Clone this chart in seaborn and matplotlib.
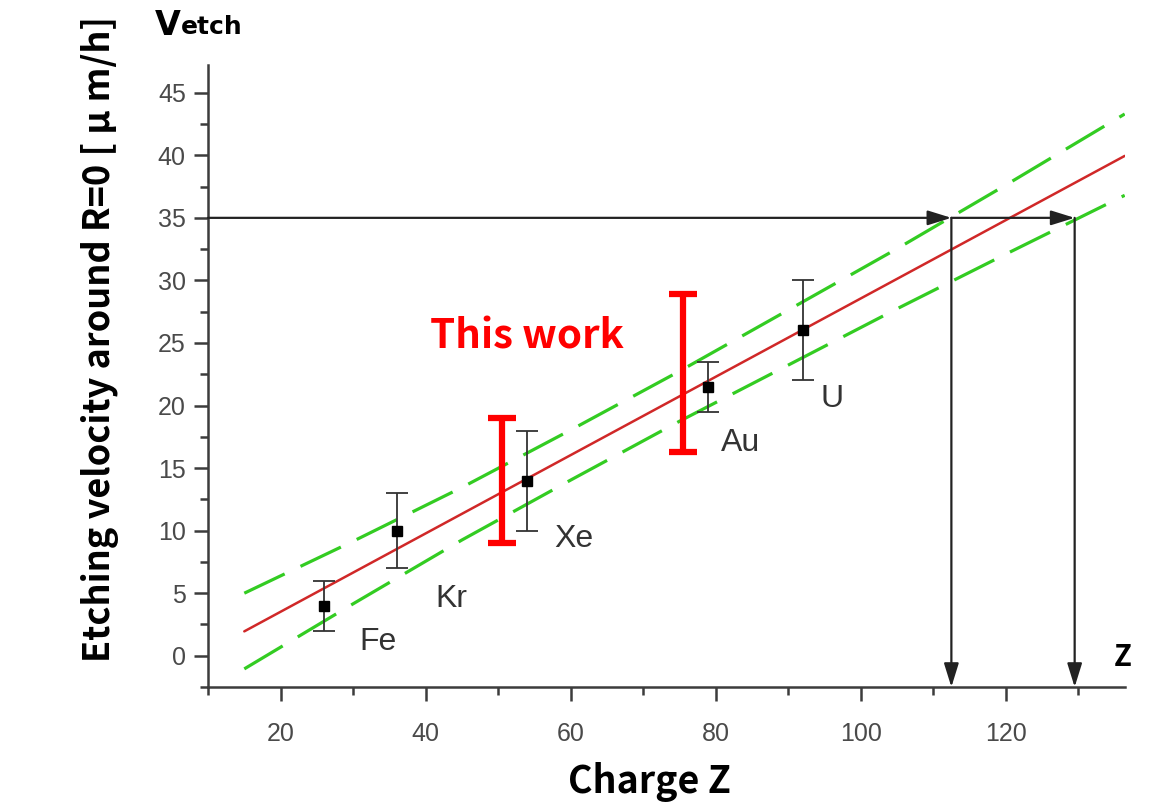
import numpy as np
import pandas as pd
import matplotlib
matplotlib.use("Agg")
import matplotlib.pyplot as plt
import seaborn as sns
from matplotlib.ticker import MultipleLocator

# --- measured etching velocities (reference ions) ---
ions = ["Fe", "Kr", "Xe", "Au", "U"]
charge = [26, 36, 54, 79, 92]
velocity = [4.0, 10.0, 14.0, 21.5, 26.0]
vel_err = [2.0, 3.0, 4.0, 2.0, 4.0]

# --- this work: velocity ranges ---
work_z = [50.5, 75.5]
work_low = [9.0, 16.3]
work_high = [19.0, 28.9]

# --- linear fit and its confidence band ---
fit_z = [15.0, 136.4]
fit_v = [1.95, 39.95]
band_z = [15.0, 30, 45, 60, 75, 90, 105, 120, 136.4]
band_upper = [5.0, 9.15, 13.45, 18.04, 22.74, 27.63, 32.53, 37.62, 43.3]
band_lower = [-1.05, 4.15, 9.25, 14.04, 18.74, 23.23, 27.73, 32.1, 36.8]

# --- read-off of Z for V = 35 ---
v_level = 35.0
z_cross = [112.5, 129.5]

sns.set_theme(style="ticks")
plt.rcParams["font.family"] = ["Liberation Sans", "DejaVu Sans"]

fig = plt.figure(figsize=(11.5, 8.06), dpi=100)
ax = fig.add_axes([0.1809, 0.1476, 0.7971, 0.7715])

axis_col = "#3c3c3c"
red_fit = "#d02828"
green = "#33cc22"

fit_df = pd.DataFrame({"Z": fit_z, "V": fit_v})
band_df = pd.DataFrame({"Z": band_z + band_z,
                        "V": band_upper + band_lower,
                        "side": ["upper"] * len(band_z) + ["lower"] * len(band_z)})

for side in ["upper", "lower"]:
    sns.lineplot(data=band_df[band_df["side"] == side], x="Z", y="V", ax=ax,
                 color=green, linewidth=2.3, dashes=False, zorder=2, sort=True)
for ln in ax.lines:
    ln.set_dashes((14, 5.5))

sns.lineplot(data=fit_df, x="Z", y="V", ax=ax, color=red_fit, linewidth=1.8, zorder=3)

# reference data points with error bars
ax.errorbar(charge, velocity, yerr=vel_err, fmt="s", color="black", markersize=7,
            ecolor="#333333", elinewidth=1.3, capsize=8, capthick=1.3, zorder=5)

# this work ranges
work_mid = [(a + b) / 2 for a, b in zip(work_low, work_high)]
work_half = [(b - a) / 2 for a, b in zip(work_low, work_high)]
ax.errorbar(work_z, work_mid, yerr=work_half, fmt="none", ecolor="#ff0000",
            elinewidth=4.5, capsize=10, capthick=4.5, zorder=6)

# ion labels
label_pos = {"Fe": (30.8, 1.1), "Kr": (41.3, 4.5), "Xe": (57.7, 9.3),
             "Au": (80.7, 17.0), "U": (94.5, 20.5)}
for name in ions:
    x, y = label_pos[name]
    ax.text(x, y, name, fontsize=23, color="#333333", ha="left", va="center")

ax.text(54.0, 25.5, "This work", fontsize=29, color="#ff0000", fontweight="bold",
        family=["Noto Sans CJK JP", "DejaVu Sans"], ha="center", va="center")

# read-off arrows
arrow_kw = dict(arrowstyle="-|>,head_length=0.9,head_width=0.28", color="#222222",
                lw=1.6, shrinkA=0, shrinkB=0, mutation_scale=16)
ax.annotate("", xy=(z_cross[0], v_level), xytext=(10, v_level), arrowprops=arrow_kw, zorder=4)
ax.annotate("", xy=(z_cross[1], v_level), xytext=(z_cross[0], v_level), arrowprops=arrow_kw, zorder=4)
for zc in z_cross:
    ax.annotate("", xy=(zc, -2.5), xytext=(zc, v_level), arrowprops=arrow_kw, zorder=4)

ax.set_xlim(10, 136.4)
ax.set_ylim(-2.5, 47.2)
ax.xaxis.set_major_locator(MultipleLocator(20))
ax.xaxis.set_minor_locator(MultipleLocator(10))
ax.yaxis.set_major_locator(MultipleLocator(5))
ax.yaxis.set_minor_locator(MultipleLocator(2.5))
ax.set_xticks([20, 40, 60, 80, 100, 120])

for s in ["top", "right"]:
    ax.spines[s].set_visible(False)
for s in ["left", "bottom"]:
    ax.spines[s].set_color(axis_col)
    ax.spines[s].set_linewidth(1.8)

ax.tick_params(axis="both", which="major", direction="out", length=10, width=1.8,
               color=axis_col, labelcolor="#4a4a4a", labelsize=18, pad=6)
ax.tick_params(axis="both", which="minor", direction="out", length=6, width=1.8,
               color=axis_col)
ax.tick_params(axis="x", which="major", pad=15)

ax.set_xlabel("")
ax.set_ylabel("")

cjk = ["Noto Sans CJK JP", "DejaVu Sans"]
fig.text(0.565, 0.03, "Charge Z", fontsize=27, fontweight="bold", family=cjk,
         ha="center", va="center", color="black")
fig.text(0.087, 0.58, "Etching velocity around R=0 [ μ m/h]", fontsize=26,
         fontweight="bold", family=cjk, rotation=90, ha="center", va="center", color="black")
fig.text(0.976, 0.185, "Z", fontsize=21, fontweight="bold", family=cjk,
         ha="center", va="center", color="black")
fig.text(0.135, 0.968, "V", fontsize=24, fontweight="bold", family=["DejaVu Sans"],
         ha="left", va="center", color="black")
fig.text(0.157, 0.966, "etch", fontsize=18, fontweight="bold", family=["DejaVu Sans"],
         ha="left", va="center", color="black")

fig.savefig("out.png", dpi=100, facecolor="white")
